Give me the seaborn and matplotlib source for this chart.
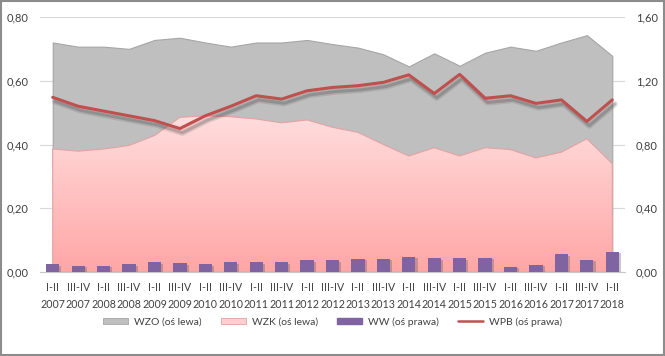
import matplotlib
matplotlib.use("Agg")
import matplotlib.pyplot as plt
import matplotlib.patheffects as pe
from matplotlib.colors import LinearSegmentedColormap
from matplotlib.patches import Rectangle, Patch
from matplotlib.lines import Line2D
import numpy as np
import pandas as pd
import seaborn as sns

# ---------------------------------------------------------------------------
# Dane
# ---------------------------------------------------------------------------
polrocza = ["I-II", "III-IV"] * 11 + ["I-II"]
lata = [str(r) for r in range(2007, 2018) for _ in range(2)] + ["2018"]
etykiety = [f"{p}\n{r}" for p, r in zip(polrocza, lata)]

wzo = [0.720, 0.707, 0.707, 0.700, 0.728, 0.735, 0.720, 0.707, 0.720, 0.720, 0.728, 0.715,
       0.704, 0.683, 0.645, 0.686, 0.647, 0.688, 0.707, 0.694, 0.720, 0.743, 0.678]
wzk = [0.386, 0.379, 0.386, 0.397, 0.428, 0.485, 0.490, 0.487, 0.480, 0.468, 0.477, 0.454,
       0.438, 0.400, 0.364, 0.390, 0.364, 0.390, 0.384, 0.358, 0.376, 0.418, 0.340]
ww = [0.048, 0.040, 0.040, 0.048, 0.060, 0.054, 0.048, 0.060, 0.060, 0.060, 0.073, 0.073,
      0.081, 0.081, 0.094, 0.085, 0.085, 0.090, 0.031, 0.046, 0.112, 0.077, 0.125]
wpb = [1.096, 1.040, 1.010, 0.980, 0.950, 0.900, 0.980, 1.040, 1.106, 1.085, 1.137, 1.158,
       1.169, 1.190, 1.237, 1.120, 1.240, 1.090, 1.106, 1.058, 1.080, 0.945, 1.080]

df = pd.DataFrame({"okres": etykiety, "WZO": wzo, "WZK": wzk, "WW": ww, "WPB": wpb})
df["x"] = np.arange(len(df))

# ---------------------------------------------------------------------------
# Styl
# ---------------------------------------------------------------------------
sns.set_theme(style="white")
plt.rcParams["font.family"] = ["Lato", "DejaVu Sans"]
TXT = "#404040"
FS = 8

fig = plt.figure(figsize=(6.65, 3.56), dpi=100)
ax = fig.add_axes([40 / 665, 84 / 356, 585 / 665, 255 / 356])
ax2 = ax.twinx()

# obszar WZO (szary)
ax.fill_between(df["x"], 0, df["WZO"], facecolor="#BFBFBF", edgecolor="#A6A6A6",
                linewidth=0.8, zorder=2)

# obszar WZK (różowy gradient)
poly = ax.fill_between(df["x"], 0, df["WZK"], facecolor="none", edgecolor="#E3A3A3",
                       linewidth=0.8, zorder=4)
cmap = LinearSegmentedColormap.from_list("roz", ["#FFA6A6", "#FFDEDE"])
grad = np.linspace(0, 1, 256).reshape(-1, 1)
im = ax.imshow(grad, extent=[df["x"].min(), df["x"].max(), 0, 0.5], aspect="auto",
               cmap=cmap, origin="lower", zorder=3)
im.set_clip_path(poly.get_paths()[0], transform=ax.transData)

# słupki WW i linia WPB (oś prawa)
sns.barplot(data=df, x="okres", y="WW", ax=ax2, color="#8064A2", width=0.52,
            saturation=1, linewidth=0, zorder=3)
for bar in ax2.patches:
    bar.set_edgecolor("none")
    bar.set_path_effects([pe.SimplePatchShadow(offset=(1.5, -1), shadow_rgbFace="#606060",
                                               alpha=0.35), pe.Normal()])
sns.lineplot(data=df, x="x", y="WPB", ax=ax2, color="#C0504D", linewidth=2.2, zorder=4,
             path_effects=[
                 pe.SimpleLineShadow(offset=(1.8, -3.0), shadow_color="#404040",
                                     alpha=0.15, linewidth=4.5),
                 pe.SimpleLineShadow(offset=(1.8, -3.0), shadow_color="#404040",
                                     alpha=0.25, linewidth=2.2),
                 pe.Normal()])

# osie
ax.set_xlim(-0.5, len(df) - 0.5)
ax.set_ylim(0, 0.8)
ax2.set_ylim(0, 1.6)
ax.set_yticks(np.arange(0, 0.81, 0.2))
ax2.set_yticks(np.arange(0, 1.61, 0.4))
ax.set_yticklabels([f"{v:.2f}".replace(".", ",") for v in np.arange(0, 0.81, 0.2)])
ax2.set_yticklabels([f"{v:.2f}".replace(".", ",") for v in np.arange(0, 1.61, 0.4)])
ax.set_xticks(df["x"])
ax.set_xticklabels(etykiety, linespacing=1.75, fontsize=7.7)
ax.set_xlabel("")
ax.set_ylabel("")
ax2.set_xlabel("")
ax2.set_ylabel("")
ax.tick_params(axis="both", length=0, labelsize=FS, labelcolor=TXT)
ax.tick_params(axis="x", labelsize=7.7, pad=7)
ax.tick_params(axis="y", pad=8)
ax2.tick_params(axis="y", length=0, labelsize=FS, labelcolor=TXT, pad=8)

ax.set_axisbelow(True)
ax.yaxis.grid(True, color="#D9D9D9", linewidth=0.8)
ax.xaxis.grid(False)
ax2.grid(False)
for a in (ax, ax2):
    for s in a.spines.values():
        s.set_visible(False)
ax2.spines["bottom"].set_visible(True)
ax2.spines["bottom"].set_color("#C8C8C8")
ax2.spines["bottom"].set_linewidth(0.8)

# legenda
uchwyty = [
    Patch(facecolor="#BFBFBF", edgecolor="#A6A6A6", linewidth=0.6),
    Patch(facecolor="#FFCFCF", edgecolor="#E3A3A3", linewidth=0.6),
    Patch(facecolor="#8064A2", edgecolor="#8064A2"),
    Line2D([0], [0], color="#C0504D", linewidth=1.8),
]
fig.legend(uchwyty, ["WZO (oś lewa)", "WZK (oś lewa)", "WW (oś prawa)", "WPB (oś prawa)"],
           loc="center", bbox_to_anchor=(0.5, 34 / 356), ncol=4, frameon=False,
           fontsize=7.5, labelcolor=TXT, handlelength=2.4, handleheight=0.6,
           columnspacing=1.8, handletextpad=0.6)

# ramka wykresu
fig.patches.append(Rectangle((0.001, 0.002), 0.997, 0.995, transform=fig.transFigure,
                             fill=False, edgecolor="#8C8C8C", linewidth=1.5))

fig.savefig("out.png", dpi=100)
